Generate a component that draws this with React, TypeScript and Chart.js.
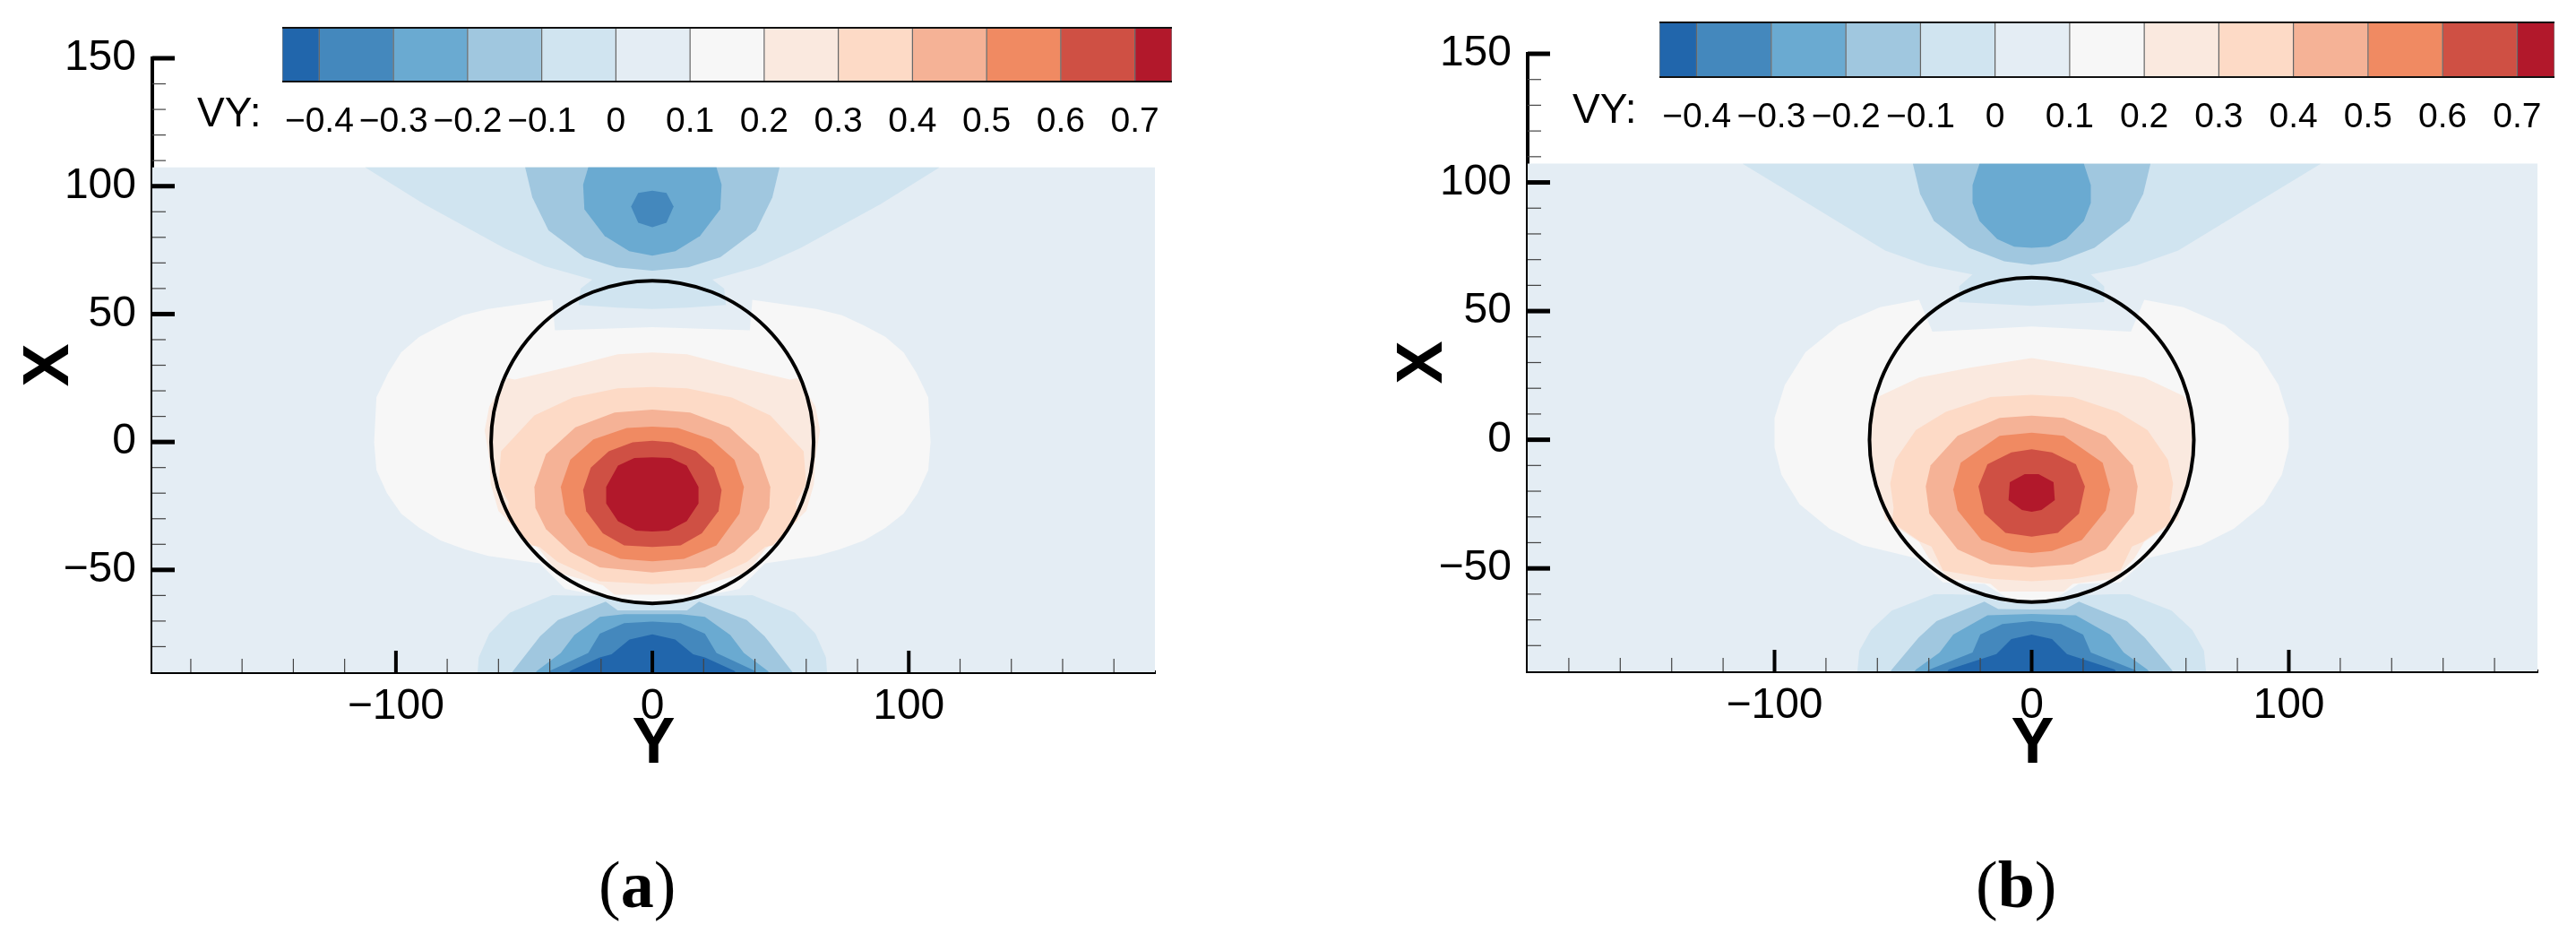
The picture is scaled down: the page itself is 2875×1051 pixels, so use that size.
import React, { useEffect, useRef } from "react";
import { Chart, registerables } from "chart.js";

Chart.register(...registerables);

type Pair = [number, number];

// ---- axis ticks ----
const xTickValues = [-180, -160, -140, -120, -100, -80, -60, -40, -20, 0, 20, 40, 60, 80, 100, 120, 140, 160, 180];
const xMajorValues = [-100, 0, 100];
const yTickValues = [-80, -70, -60, -50, -40, -30, -20, -10, 0, 10, 20, 30, 40, 50, 60, 70, 80, 90, 100, 110, 120, 130, 140, 150];
const yMajorValues = [-50, 0, 50, 100, 150];

// ---- colour bar ----
const bandEdges = [-0.45, -0.4, -0.3, -0.2, -0.1, 0, 0.1, 0.2, 0.3, 0.4, 0.5, 0.6, 0.7, 0.75];
const bandColors = ["#2166ac", "#4488bd", "#6aaad1", "#a0c7df", "#d0e4f0", "#e4edf4", "#f7f7f7", "#fae9df", "#fddac6", "#f5b296", "#f08a62", "#cf5044", "#b2182b"];
const colorTicks = [-0.4, -0.3, -0.2, -0.1, 0, 0.1, 0.2, 0.3, 0.4, 0.5, 0.6, 0.7];

// ---- the cylinder outline ----
const cylinderCentre = [{ x: 0, y: 0 }];

// ---- contour half-outlines: [ |Y|, X ], mirrored about Y = 0 ----
const field: Pair[] = [[205, 107.3], [205, -95]];

const aWhite: Pair[] = [[0, 44.9], [38, 43.7], [39, 55.6], [64, 52], [74, 49.5], [82.6, 45.5], [91, 41], [98, 35], [103, 27], [107.6, 17.5], [108.5, 0], [107.6, -11], [103.5, -20], [98, -28], [91, -33.5], [82.6, -38.5], [73, -42], [64, -44.5], [44, -47.4], [34, -57.4], [11, -62], [0, -62.5]];
const aPale: Pair[] = [[0, 35], [13.5, 34.3], [31, 29.7], [53.7, 24.4], [56.6, 25], [63.6, 13.9], [65.4, 4.5], [63.6, -6], [63, -16.5], [60, -27], [44, -42], [37, -51], [19.3, -56], [14.7, -59.7], [0, -59.7]];
const aPeach: Pair[] = [[0, 21.5], [13.5, 21], [31, 17.4], [46, 10.4], [59, -3.6], [60, -16.5], [56, -23.5], [56.6, -30.5], [47, -40.4], [44, -41], [37, -46.8], [20.5, -54.4], [0, -55.6]];
const aSalmon: Pair[] = [[0, 12.7], [14.7, 11.5], [30, 5.7], [41.5, -4.8], [46, -17.6], [45.6, -25.8], [41.5, -34], [32, -43], [20.5, -49], [0, -51]];
const aOrange: Pair[] = [[0, 6], [10, 5.5], [23, 1], [32, -7], [35.7, -17.6], [34, -28], [25, -40.4], [12.4, -45.7], [0, -46.6]];
const aCoral: Pair[] = [[0, 0.5], [7.7, -0.1], [17, -3.6], [24, -10], [27, -18.8], [25.8, -27], [19.3, -35.7], [11, -40.4], [0, -41]];
const aRed: Pair[] = [[0, -6], [7, -6.3], [13.4, -9.2], [18, -17.6], [18, -24], [13.4, -31], [6.4, -34.6], [0, -35]];
const aTopA: Pair[] = [[0, 107.3], [112, 107.3], [89, 93], [57.6, 75.7], [42, 68.7], [23.4, 63.5], [28, 60], [28.7, 53.6], [13.5, 52.5], [0, 52]];
const aTopB: Pair[] = [[0, 107.3], [49.6, 107.3], [46.8, 95.6], [40.5, 82.7], [26.5, 72.2], [14, 68.3], [0, 67]];
const aTopC: Pair[] = [[0, 107.3], [25, 107.3], [27, 100.6], [26.5, 91], [18.6, 80.5], [9, 74.6], [0, 72.8]];
const aTopD: Pair[] = [[0, 98.2], [5.5, 97.4], [8.3, 92], [5.5, 85.7], [0, 84]];
const aLowA: Pair[] = [[0, -63], [11, -63], [17, -60.3], [31, -60], [39, -59.9], [55.5, -66.7], [63.6, -74.9], [67.7, -84.2], [68.3, -92], [0, -92]];
const aLowB: Pair[] = [[0, -65.8], [13.5, -65.8], [18.2, -62.4], [36.8, -69.6], [43.8, -76], [54.3, -89.5], [56, -92], [0, -92]];
const aLowC: Pair[] = [[0, -67.3], [11, -67.3], [20.5, -68.4], [30.4, -75.5], [35.7, -82.5], [45, -89.5], [47, -92], [0, -92]];
const aLowD: Pair[] = [[0, -70.2], [11, -70.8], [20.5, -74.9], [25, -82.5], [40, -89.5], [42, -92], [0, -92]];
const aLowE: Pair[] = [[0, -75.2], [8.9, -77.2], [15.9, -83], [20.5, -84.2], [32, -89.5], [34, -92], [0, -92]];

const bWhite: Pair[] = [[0, 44], [38.6, 42], [43.8, 54.4], [59, 51.5], [75, 44.5], [88, 34], [96, 21.3], [100, 8.5], [100, -3], [97.3, -13.6], [90.3, -25], [78.7, -34.5], [65.9, -41], [45, -46], [34.5, -55.4], [18.3, -56], [13.6, -59], [7.8, -62.4], [0, -63]];
const bPale: Pair[] = [[0, 31.7], [24, 28], [43.8, 24.2], [59, 17], [62, 12], [63, -3], [57, -31], [43.8, -39.7], [40, -46], [32, -54], [16, -56], [12.5, -59], [0, -59]];
const bPeach: Pair[] = [[0, 17.5], [16, 16.6], [33.4, 10.8], [45, 3.8], [53, -7.8], [55, -17], [53.7, -26.4], [54.3, -32], [43.3, -39.7], [39, -41.5], [34.5, -50.8], [16, -54], [0, -55]];
const bSalmon: Pair[] = [[0, 9.4], [12.5, 8.5], [28.8, 1.5], [39.3, -10], [41.2, -18.2], [39.8, -28.7], [28.8, -42.6], [16, -48.4], [0, -49.6]];
const bOrange: Pair[] = [[0, 2.7], [12.5, 1.5], [27.6, -8.9], [30.5, -19.4], [28.8, -27.5], [19.5, -39], [7.9, -43.2], [0, -44]];
const bCoral: Pair[] = [[0, -3.7], [7.9, -4.9], [17.2, -9.5], [20.7, -18.2], [18.4, -28.7], [10.2, -36.2], [0, -37.7]];
const bRed: Pair[] = [[0, -13.4], [2.7, -13.4], [8.5, -16.5], [9, -23.5], [3.8, -27.3], [0, -28]];
const bTopA: Pair[] = [[0, 107.2], [112.4, 107.2], [84, 90], [57, 73.5], [40.6, 67.7], [23, 64.2], [28.2, 59.6], [28.2, 53.5], [0, 52]];
const bTopB: Pair[] = [[0, 107.2], [46.2, 107.2], [43.4, 95.6], [38, 85], [24.4, 74.6], [10.7, 69.4], [0, 68]];
const bTopC: Pair[] = [[0, 107.2], [20.3, 107.2], [23, 99], [23, 92], [20.3, 85], [13.4, 78], [6.8, 75], [0, 74.6]];
const bLowA: Pair[] = [[0, -63.3], [10, -63.3], [17, -60.6], [31, -60], [38, -60], [54.4, -66.4], [62.5, -74], [67, -82], [68, -92], [0, -92]];
const bLowB: Pair[] = [[0, -66], [13, -65.8], [18.4, -62.9], [37, -70.5], [44, -76.9], [54.4, -89.3], [56, -92], [0, -92]];
const bLowC: Pair[] = [[0, -67.7], [17.2, -68.2], [30.5, -75.7], [35.8, -82.7], [45, -89.3], [47, -92], [0, -92]];
const bLowD: Pair[] = [[0, -70.5], [11.4, -71.6], [20, -75.7], [23, -82.7], [40.4, -89.6], [42, -92], [0, -92]];
const bLowE: Pair[] = [[0, -75.7], [7.9, -77.5], [13.7, -83.3], [32.3, -89.3], [34, -92], [0, -92]];

const C = {
  blue5: bandColors[0], blue4: bandColors[1], blue3: bandColors[2], blue2: bandColors[3], blue1: bandColors[4],
  field: bandColors[5], white: bandColors[6], pale: bandColors[7], peach: bandColors[8], salmon: bandColors[9],
  orange: bandColors[10], coral: bandColors[11], red: bandColors[12],
};

const aLayers: [Pair[], string][] = [
  [field, C.field], [aWhite, C.white], [aPale, C.pale], [aPeach, C.peach], [aSalmon, C.salmon], [aOrange, C.orange], [aCoral, C.coral], [aRed, C.red],
  [aTopA, C.blue1], [aTopB, C.blue2], [aTopC, C.blue3], [aTopD, C.blue4],
  [aLowA, C.blue1], [aLowB, C.blue2], [aLowC, C.blue3], [aLowD, C.blue4], [aLowE, C.blue5],
];
const bLayers: [Pair[], string][] = [
  [field, C.field], [bWhite, C.white], [bPale, C.pale], [bPeach, C.peach], [bSalmon, C.salmon], [bOrange, C.orange], [bCoral, C.coral], [bRed, C.red],
  [bTopA, C.blue1], [bTopB, C.blue2], [bTopC, C.blue3],
  [bLowA, C.blue1], [bLowB, C.blue2], [bLowC, C.blue3], [bLowD, C.blue4], [bLowE, C.blue5],
];

const SANS = "'Liberation Sans', Arial, sans-serif";
const SERIF = "'Liberation Serif', 'Times New Roman', serif";

const mirror = (half: Pair[]) => [
  ...half.map(([y, x]) => ({ x: y, y: x })),
  ...[...half].reverse().filter(([y]) => y !== 0).map(([y, x]) => ({ x: -y, y: x })),
];
const signed = (v: number, digits: number) => (v === 0 ? "0" : (v < 0 ? "\u2212" : "") + Math.abs(v).toFixed(digits));

const innerTicks = {
  id: "innerTicks",
  afterDatasetsDraw(chart: any) {
    const { ctx, chartArea: a, scales } = chart;
    ctx.save();
    ctx.lineCap = "butt";
    scales.x.ticks.forEach((t: any) => {
      const major = xMajorValues.includes(t.value);
      const p = scales.x.getPixelForValue(t.value);
      ctx.beginPath();
      ctx.strokeStyle = major ? "#000" : "#444";
      ctx.lineWidth = major ? 4 : 1.2;
      ctx.moveTo(p, a.bottom);
      ctx.lineTo(p, a.bottom - (major ? 24 : 15));
      ctx.stroke();
    });
    scales.y.ticks.forEach((t: any) => {
      const major = yMajorValues.includes(t.value);
      const p = scales.y.getPixelForValue(t.value);
      ctx.beginPath();
      ctx.strokeStyle = major ? "#000" : "#444";
      ctx.lineWidth = major ? 5 : 1.2;
      ctx.moveTo(a.left, p);
      ctx.lineTo(a.left + (major ? 25 : 15), p);
      ctx.stroke();
    });
    ctx.restore();
  },
};

const barEdges = {
  id: "barEdges",
  afterDatasetsDraw(chart: any) {
    const { ctx, chartArea: a } = chart;
    ctx.save();
    ctx.strokeStyle = "#111";
    ctx.lineWidth = 2;
    ctx.beginPath();
    ctx.moveTo(a.left, a.top);
    ctx.lineTo(a.right, a.top);
    ctx.moveTo(a.left, a.bottom);
    ctx.lineTo(a.right, a.bottom);
    ctx.stroke();
    ctx.restore();
  },
};

type FieldProps = {
  layers: [Pair[], string][];
  canvasLeft: number; canvasWidth: number;
  left: number; right: number; top: number; bottom: number;
  xMin: number; xMax: number; radius: number; yTitleInset: number;
};

function FieldPanel(p: FieldProps) {
  const ref = useRef<HTMLCanvasElement>(null);
  useEffect(() => {
    const H = 1051;
    const datasets: any[] = p.layers.map(([half, color], i) => ({
      label: "level " + i,
      data: mirror(half),
      showLine: true,
      fill: "shape",
      backgroundColor: color,
      borderColor: color,
      borderWidth: 0,
      pointRadius: 0,
      tension: 0,
      order: -i,
    }));
    datasets.push({
      label: "cylinder",
      data: cylinderCentre,
      showLine: false,
      pointRadius: p.radius,
      pointBorderWidth: 4,
      pointBackgroundColor: "rgba(0,0,0,0)",
      pointBorderColor: "#000",
      order: -100,
    });
    const chart = new Chart(ref.current!, {
      type: "scatter",
      data: { datasets },
      plugins: [innerTicks],
      options: {
        responsive: false,
        animation: false,
        devicePixelRatio: 1,
        layout: { autoPadding: false, padding: { left: 0, top: p.top, right: p.canvasWidth - p.right, bottom: 0 } },
        plugins: { legend: { display: false }, tooltip: { enabled: false } },
        events: [],
        scales: {
          x: {
            type: "linear",
            min: p.xMin,
            max: p.xMax,
            afterFit: (s: any) => { s.height = H - p.bottom; },
            afterBuildTicks: (s: any) => { s.ticks = xTickValues.map((value) => ({ value })); },
            grid: { display: false, drawTicks: false },
            border: { display: true, color: "#000", width: 4 },
            ticks: {
              autoSkip: false, maxRotation: 0, minRotation: 0, padding: 10, color: "#000",
              font: { family: SANS, size: 48 },
              callback: (v: any) => (xMajorValues.includes(v) ? signed(v, 0) : ""),
            },
            title: { display: true, text: "Y", color: "#000", font: { family: SANS, size: 72, weight: "bold", lineHeight: 1 }, padding: { top: 0, bottom: 184 } },
          },
          y: {
            type: "linear",
            min: -90,
            max: 150,
            afterFit: (s: any) => { s.width = p.left; },
            afterBuildTicks: (s: any) => { s.ticks = yTickValues.map((value) => ({ value })); },
            grid: { display: false, drawTicks: false },
            border: { display: true, color: "#000", width: 4 },
            ticks: {
              autoSkip: false, maxRotation: 0, minRotation: 0, padding: 18, color: "#000",
              font: { family: SANS, size: 48 },
              callback: (v: any) => (yMajorValues.includes(v) ? signed(v, 0) : ""),
            },
            title: { display: true, text: "X", color: "#000", font: { family: SANS, size: 72, weight: "bold", lineHeight: 1 }, padding: { top: p.yTitleInset, bottom: 0 } },
          },
        },
      } as any,
    });
    return () => chart.destroy();
  }, []);
  return <canvas ref={ref} width={p.canvasWidth} height={1051} style={{ position: "absolute", left: p.canvasLeft, top: 0, width: p.canvasWidth, height: 1051 }} />;
}

type BarProps = { canvasLeft: number; canvasWidth: number; left: number; right: number; top: number; bottom: number; labelPad: number };

function ColorBar(p: BarProps) {
  const ref = useRef<HTMLCanvasElement>(null);
  useEffect(() => {
    const H = 170;
    const chart = new Chart(ref.current!, {
      type: "bar",
      data: {
        labels: ["VY"],
        datasets: bandColors.map((color, i) => ({
          label: "band " + i,
          data: [[bandEdges[i], bandEdges[i + 1]]],
          backgroundColor: color,
          borderColor: "rgba(0,0,0,0.5)",
          borderWidth: { left: 1, right: 1, top: 0, bottom: 0 },
          borderSkipped: false,
          barPercentage: 1,
          categoryPercentage: 1,
          grouped: false,
        })),
      },
      plugins: [barEdges],
      options: {
        responsive: false,
        animation: false,
        devicePixelRatio: 1,
        indexAxis: "y",
        events: [],
        layout: { autoPadding: false, padding: { left: p.left - p.canvasLeft, top: p.top, right: p.canvasLeft + p.canvasWidth - p.right, bottom: 0 } },
        plugins: { legend: { display: false }, tooltip: { enabled: false } },
        scales: {
          x: {
            type: "linear",
            min: bandEdges[0],
            max: bandEdges[bandEdges.length - 1],
            afterFit: (s: any) => { s.height = H - p.bottom; },
            afterBuildTicks: (s: any) => { s.ticks = colorTicks.map((value) => ({ value })); },
            grid: { display: false, drawTicks: false },
            border: { display: false },
            ticks: {
              autoSkip: false, maxRotation: 0, minRotation: 0, padding: p.labelPad, color: "#000",
              font: { family: SANS, size: 39 },
              callback: (v: any) => signed(v, 1),
            },
          },
          y: { type: "category", display: false },
        },
      } as any,
    });
    return () => chart.destroy();
  }, []);
  return <canvas ref={ref} width={p.canvasWidth} height={170} style={{ position: "absolute", left: p.canvasLeft, top: 0, width: p.canvasWidth, height: 170 }} />;
}

const abs = (left: number, top: number, extra: React.CSSProperties): React.CSSProperties => ({ position: "absolute", left, top, color: "#000", whiteSpace: "nowrap", ...extra });

export default function App() {
  return (
    <div style={{ position: "absolute", left: 0, top: 0, width: 2875, height: 1051, background: "#fff", overflow: "hidden" }}>
      <FieldPanel layers={aLayers} canvasLeft={0} canvasWidth={1437} left={170} right={1289} top={65} bottom={750} xMin={-195} xMax={196} radius={180} yTitleInset={20} />
      <FieldPanel layers={bLayers} canvasLeft={1437} canvasWidth={1438} left={268} right={1395} top={60} bottom={749} xMin={-196} xMax={196.7} radius={181} yTitleInset={116} />
      <ColorBar canvasLeft={200} canvasWidth={1200} left={315} right={1308} top={31} bottom={91} labelPad={22} />
      <ColorBar canvasLeft={1700} canvasWidth={1175} left={1852} right={2851} top={25} bottom={86} labelPad={22} />
      <div style={abs(220, 102, { font: `46px/46px ${SANS}` })}>VY:</div>
      <div style={abs(1755, 98, { font: `46px/46px ${SANS}` })}>VY:</div>
      <div style={abs(668, 950, { font: `74px/74px ${SERIF}` })}>(<b>a</b>)</div>
      <div style={abs(2205, 950, { font: `74px/74px ${SERIF}` })}>(<b>b</b>)</div>
    </div>
  );
}
